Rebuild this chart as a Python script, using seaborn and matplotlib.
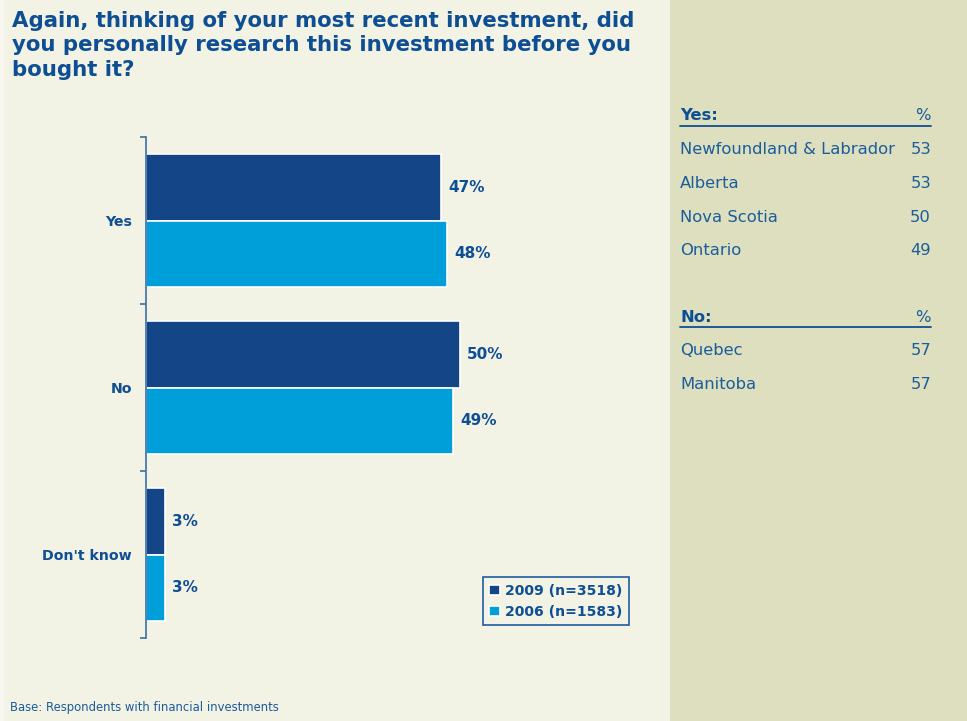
import matplotlib
matplotlib.use("Agg")
import matplotlib.pyplot as plt
from matplotlib.patches import Rectangle
from matplotlib.lines import Line2D
import seaborn as sns
import pandas as pd

# ---- data ----
categories = ["Yes", "No", "Don't know"]
series_names = ["2009 (n=3518)", "2006 (n=1583)"]
values_2009 = [47, 50, 3]
values_2006 = [48, 49, 3]

yes_regions = ["Newfoundland & Labrador", "Alberta", "Nova Scotia", "Ontario"]
yes_values = [53, 53, 50, 49]
no_regions = ["Quebec", "Manitoba"]
no_values = [57, 57]

title = ("Again, thinking of your most recent investment, did\n"
         "you personally research this investment before you\n"
         "bought it?")
footnote = "Base: Respondents with financial investments"

# ---- styles ----
W, H = 967, 721
BG_LEFT = "#F2F2E5"
BG_RIGHT = "#DEDFBE"
DARK = "#144687"
LIGHT = "#009FD9"
TXT = "#0E4F94"
TXT2 = "#1B5C9C"

def fx(px):
    return px / W

def fy(py):
    return 1 - py / H

sns.set_theme(style="white")
plt.rcParams["font.family"] = ["DejaVu Sans"]

fig = plt.figure(figsize=(W / 100, H / 100), dpi=100)
fig.patch.set_facecolor(BG_LEFT)
fig.add_artist(Rectangle((fx(670), 0), 1 - fx(670), 1, transform=fig.transFigure,
                         facecolor=BG_RIGHT, edgecolor="none", zorder=0))
fig.add_artist(Rectangle((0, 0), fx(4), 1, transform=fig.transFigure,
                         facecolor="#F8F8F0", edgecolor="none", zorder=0))

df = pd.DataFrame({
    "category": categories * 2,
    "series": [series_names[0]] * len(categories) + [series_names[1]] * len(categories),
    "value": values_2009 + values_2006,
})

ax_left, ax_right = 146, 648
ax_top, ax_bottom = 137, 638
ax = fig.add_axes([fx(ax_left), fy(ax_bottom), fx(ax_right) - fx(ax_left),
                   (ax_bottom - ax_top) / H])
ax.set_facecolor("none")

sns.barplot(data=df, y="category", x="value", hue="series", orient="h",
            palette=[DARK, LIGHT], order=categories, hue_order=series_names,
            width=0.8, edgecolor="white", linewidth=1.2, ax=ax, saturation=1)

ax.set_xlim(0, 80)
ax.set_ylim(2.5, -0.5)
ax.set_xlabel("")
ax.set_ylabel("")
ax.set_xticks([])
for s in ["top", "right", "bottom"]:
    ax.spines[s].set_visible(False)
ax.spines["left"].set_color("#3C6EA6")
ax.spines["left"].set_linewidth(1.2)

ax.set_yticks(range(len(categories)))
ax.set_yticklabels(categories, fontsize=10.2, fontweight="bold", color=TXT)
ax.tick_params(axis="y", which="major", length=0, pad=10)
ax.set_yticks([-0.5, 0.5, 1.5, 2.5], minor=True)
ax.tick_params(axis="y", which="minor", length=4.5, width=1.2, color="#3C6EA6",
               direction="out", left=True)

for cont in ax.containers:
    ax.bar_label(cont, fmt="%d%%", padding=5, fontsize=11, fontweight="bold",
                 color=TXT)

leg = ax.legend(loc="lower left", bbox_to_anchor=((483 - ax_left) / (ax_right - ax_left),
                                                   (ax_bottom - 625) / (ax_bottom - ax_top)),
                frameon=True, fancybox=False, handlelength=0.75, handleheight=0.75,
                handletextpad=0.4, borderpad=0.45, labelspacing=0.5,
                prop={"size": 10.1, "weight": "bold"}, borderaxespad=0)
leg.get_frame().set_edgecolor("#1F5CA0")
leg.get_frame().set_linewidth(1.2)
leg.get_frame().set_facecolor(BG_LEFT)
leg.get_frame().set_alpha(1)
for t in leg.get_texts():
    t.set_color(TXT)

# title
fig.text(fx(12), fy(11), title, ha="left", va="top", fontsize=15.3,
         fontweight="bold", color=TXT, linespacing=1.27)

# footnote
fig.text(fx(10), fy(708), footnote, ha="left", va="center", fontsize=8.4,
         color=TXT2)

# right panel
x_l, x_r = 680, 931
row_h = 33.7
fs_r = 11.8
def section(y0, header, regions, vals):
    fig.text(fx(x_l), fy(y0), header, ha="left", va="center", fontsize=fs_r,
             fontweight="bold", color=TXT)
    fig.text(fx(x_r), fy(y0), "%", ha="right", va="center", fontsize=fs_r,
             color=TXT2)
    fig.add_artist(Line2D([fx(x_l), fx(x_r)], [fy(y0 + 9.5), fy(y0 + 9.5)],
                          transform=fig.transFigure, color=TXT, linewidth=1.3))
    for i, (r, v) in enumerate(zip(regions, vals)):
        yy = y0 + row_h * (i + 1)
        fig.text(fx(x_l), fy(yy), r, ha="left", va="center", fontsize=fs_r,
                 color=TXT2)
        fig.text(fx(x_r), fy(yy), str(v), ha="right", va="center", fontsize=fs_r,
                 color=TXT2)

section(116, "Yes:", yes_regions, yes_values)
section(317, "No:", no_regions, no_values)

fig.savefig("out.png", dpi=100, facecolor=fig.get_facecolor())
